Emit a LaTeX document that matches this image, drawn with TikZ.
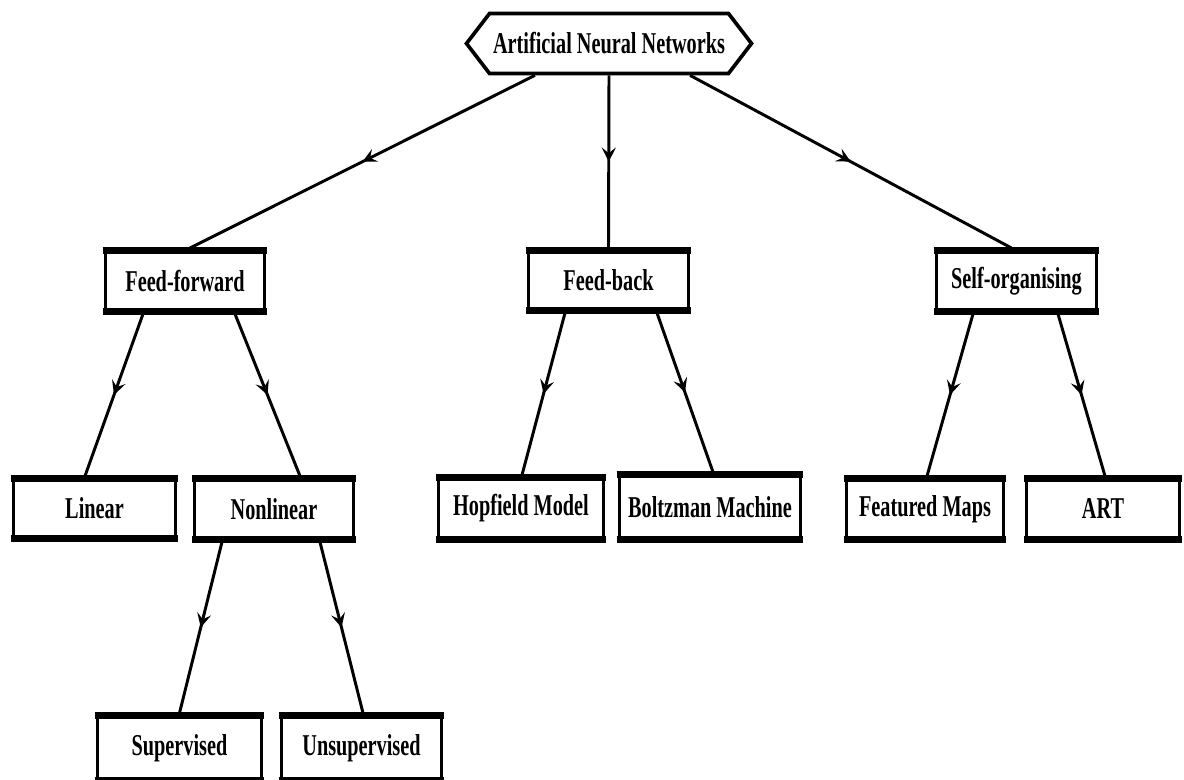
\documentclass[tikz,border=0pt]{standalone}
\usepackage{fontspec}
\newfontfamily\lblfont[FakeStretch=0.67]{Liberation Serif}
\usetikzlibrary{shapes.symbols,arrows.meta,decorations.markings,calc}
\begin{document}
\begin{tikzpicture}[x=0.025cm,y=-0.025cm,
  lbl/.style={font=\lblfont\bfseries\fontsize{21.5}{24}\selectfont},
  boxnode/.style={lbl, draw, line width=2.1pt, inner sep=0pt},
  band/.style={line width=5pt},
  flow/.style={line width=2.1pt, postaction={decorate},
    decoration={markings, mark=at position 0.5 with {\arrow{Stealth[length=10pt,width=10pt,inset=4pt]}}}}
]
\useasboundingbox (0,0) rectangle (1184,780);
\clip (0,0) rectangle (1184,780);

% root hexagon
\node[lbl, signal, signal to=west and east, signal pointer angle=105, draw, line width=2.6pt,
      inner sep=0pt, minimum width={285*0.025cm}, minimum height={60*0.025cm}]
      (root) at (609,43.5) {Artificial Neural Networks};

% level 1
\node[boxnode, minimum width={159*0.025cm}, minimum height={63*0.025cm}] (ff) at (185,281) {Feed-forward};
\node[boxnode, minimum width={160*0.025cm}, minimum height={62*0.025cm}] (fb) at (608.5,280.5) {Feed-back};
\node[boxnode, minimum width={160*0.025cm}, minimum height={63*0.025cm}] (so) at (1016.5,281) {Self-organising};

% level 2
\node[boxnode, minimum width={162*0.025cm}, minimum height={62*0.025cm}] (lin) at (94.5,508.5) {Linear};
\node[boxnode, minimum width={159*0.025cm}, minimum height={63*0.025cm}] (nl) at (274,509) {Nonlinear};
\node[boxnode, minimum width={165*0.025cm}, minimum height={64*0.025cm}] (hop) at (521,508.5) {Hopfield Model};
\node[boxnode, minimum width={181*0.025cm}, minimum height={67*0.025cm}] (bol) at (710,507) {Boltzman Machine};
\node[boxnode, minimum width={157*0.025cm}, minimum height={63*0.025cm}] (fm) at (925,509) {Featured Maps};
\node[boxnode, minimum width={153*0.025cm}, minimum height={63*0.025cm}] (art) at (1103,509) {ART};

% level 3
\node[boxnode, minimum width={164*0.025cm}, minimum height={67*0.025cm}] (sup) at (179.5,748) {Supervised};
\node[boxnode, minimum width={160*0.025cm}, minimum height={67*0.025cm}] (uns) at (361.5,748) {Unsupervised};

% thick top/bottom bands
\foreach \n in {ff,fb,so,lin,nl,hop,bol,fm,art,sup,uns}{
  \draw[band] ([xshift=-1.05pt,yshift=-1.45pt]\n.north west) -- ([xshift=1.05pt,yshift=-1.45pt]\n.north east);
  \draw[band] ([xshift=-1.05pt,yshift=1.45pt]\n.south west) -- ([xshift=1.05pt,yshift=1.45pt]\n.south east);
}

% connectors
\draw[flow] ($(root.south)+(-74,0)$) -- ($(ff.north)+(5,0)$);
\draw[flow] (root.south) -- (fb.north);
\draw[flow] ($(root.south)+(81,0)$) -- ($(so.north)+(-5,0)$);

\draw[flow] ($(ff.south)+(-42,0)$) -- ($(lin.north)+(-9.5,0)$);
\draw[flow] ($(ff.south)+(50,0)$) -- ($(nl.north)+(26,0)$);

\draw[flow] ($(nl.south)+(-52,0)$) -- (sup.north);
\draw[flow] ($(nl.south)+(46,0)$) -- ($(uns.north)+(1.5,0)$);

\draw[flow] ($(fb.south)+(-43.5,0)$) -- ($(hop.north)+(1,0)$);
\draw[flow] ($(fb.south)+(48.5,0)$) -- ($(bol.north)+(3,0)$);

\draw[flow] ($(so.south)+(-43.5,0)$) -- ($(fm.north)+(2,0)$);
\draw[flow] ($(so.south)+(41.5,0)$) -- ($(art.north)+(2,0)$);
\end{tikzpicture}
\end{document}
